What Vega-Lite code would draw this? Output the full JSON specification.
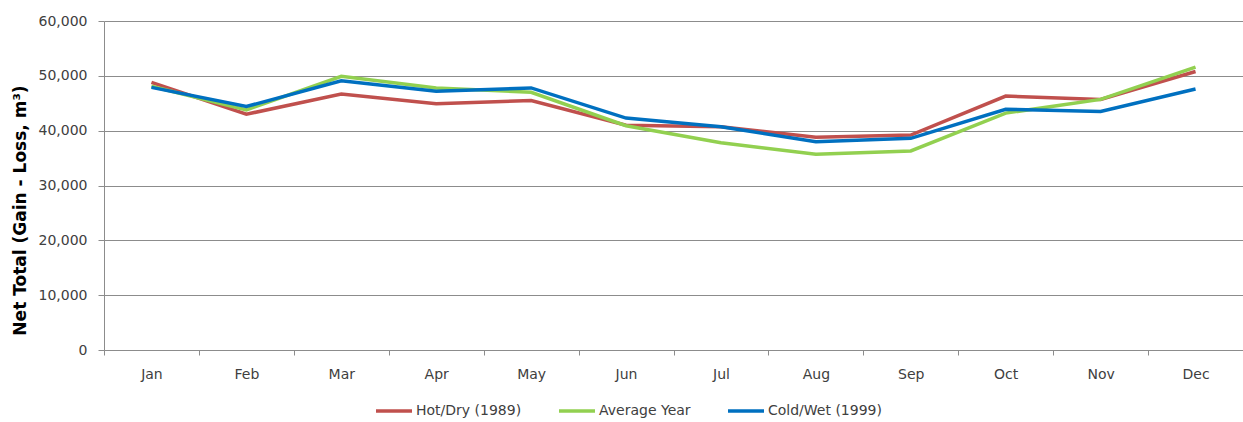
{
  "$schema": "https://vega.github.io/schema/vega-lite/v6.json",
  "width": 1139,
  "height": 329,
  "autosize": {"type": "none"},
  "padding": {"left": 104, "top": 21, "right": 0, "bottom": 72},
  "background": "white",
  "config": {
    "view": {"stroke": null},
    "font": "DejaVu Sans"
  },
  "data": {
    "values": [
      {"month": "Jan", "series": "Hot/Dry (1989)", "value": 48800},
      {"month": "Feb", "series": "Hot/Dry (1989)", "value": 43000},
      {"month": "Mar", "series": "Hot/Dry (1989)", "value": 46700},
      {"month": "Apr", "series": "Hot/Dry (1989)", "value": 44900},
      {"month": "May", "series": "Hot/Dry (1989)", "value": 45500},
      {"month": "Jun", "series": "Hot/Dry (1989)", "value": 41000},
      {"month": "Jul", "series": "Hot/Dry (1989)", "value": 40700},
      {"month": "Aug", "series": "Hot/Dry (1989)", "value": 38800},
      {"month": "Sep", "series": "Hot/Dry (1989)", "value": 39200},
      {"month": "Oct", "series": "Hot/Dry (1989)", "value": 46300},
      {"month": "Nov", "series": "Hot/Dry (1989)", "value": 45700},
      {"month": "Dec", "series": "Hot/Dry (1989)", "value": 50800},
      {"month": "Jan", "series": "Average Year", "value": 48100},
      {"month": "Feb", "series": "Average Year", "value": 43800},
      {"month": "Mar", "series": "Average Year", "value": 49900},
      {"month": "Apr", "series": "Average Year", "value": 47800},
      {"month": "May", "series": "Average Year", "value": 47000},
      {"month": "Jun", "series": "Average Year", "value": 40900},
      {"month": "Jul", "series": "Average Year", "value": 37800},
      {"month": "Aug", "series": "Average Year", "value": 35700},
      {"month": "Sep", "series": "Average Year", "value": 36300},
      {"month": "Oct", "series": "Average Year", "value": 43200},
      {"month": "Nov", "series": "Average Year", "value": 45700},
      {"month": "Dec", "series": "Average Year", "value": 51600},
      {"month": "Jan", "series": "Cold/Wet (1999)", "value": 47900},
      {"month": "Feb", "series": "Cold/Wet (1999)", "value": 44400},
      {"month": "Mar", "series": "Cold/Wet (1999)", "value": 49100},
      {"month": "Apr", "series": "Cold/Wet (1999)", "value": 47200},
      {"month": "May", "series": "Cold/Wet (1999)", "value": 47800},
      {"month": "Jun", "series": "Cold/Wet (1999)", "value": 42300},
      {"month": "Jul", "series": "Cold/Wet (1999)", "value": 40700},
      {"month": "Aug", "series": "Cold/Wet (1999)", "value": 38000},
      {"month": "Sep", "series": "Cold/Wet (1999)", "value": 38600},
      {"month": "Oct", "series": "Cold/Wet (1999)", "value": 43900},
      {"month": "Nov", "series": "Cold/Wet (1999)", "value": 43500},
      {"month": "Dec", "series": "Cold/Wet (1999)", "value": 47600}
    ]
  },
  "mark": {"type": "line", "strokeWidth": 3.5},
  "encoding": {
    "x": {
      "field": "month",
      "type": "ordinal",
      "sort": ["Jan","Feb","Mar","Apr","May","Jun","Jul","Aug","Sep","Oct","Nov","Dec"],
      "bandPosition": 0.5,
      "scale": {"type": "band", "paddingInner": 0, "paddingOuter": 0},
      "axis": {
        "title": null,
        "labelAngle": 0,
        "tickBand": "extent",
        "grid": false,
        "domainColor": "#8c8c8c",
        "tickColor": "#8c8c8c",
        "tickSize": 5,
        "labelFont": "DejaVu Sans",
        "labelFontSize": 14,
        "labelColor": "#404040",
        "labelPadding": 12
      }
    },
    "y": {
      "field": "value",
      "type": "quantitative",
      "scale": {"domain": [0, 60000], "nice": false},
      "axis": {
        "title": "Net Total (Gain - Loss, m³)",
        "values": [0, 10000, 20000, 30000, 40000, 50000, 60000],
        "format": ",d",
        "grid": true,
        "gridColor": "#8c8c8c",
        "gridWidth": 1,
        "domainColor": "#8c8c8c",
        "tickColor": "#8c8c8c",
        "tickSize": 6,
        "labelFont": "DejaVu Sans",
        "labelFontSize": 14,
        "labelColor": "#404040",
        "labelPadding": 11,
        "titleFont": "DejaVu Sans",
        "titleFontSize": 17,
        "titleFontWeight": "bold",
        "titleColor": "#000000",
        "titleAngle": -90,
        "titleAlign": "center",
        "titleBaseline": "middle",
        "titleX": -84,
        "titleY": 189
      }
    },
    "color": {
      "field": "series",
      "type": "nominal",
      "scale": {
        "domain": ["Hot/Dry (1989)", "Average Year", "Cold/Wet (1999)"],
        "range": ["#C0504D", "#92D050", "#0070C0"]
      },
      "legend": {
        "title": null,
        "orient": "none",
        "direction": "horizontal",
        "legendX": 270,
        "legendY": 370,
        "padding": 0,
        "symbolType": "stroke",
        "symbolSize": 1296,
        "symbolStrokeWidth": 3.5,
        "labelFont": "DejaVu Sans",
        "labelFontSize": 14,
        "labelColor": "#404040",
        "labelOffset": 2,
        "columnPadding": 30
      }
    }
  }
}
